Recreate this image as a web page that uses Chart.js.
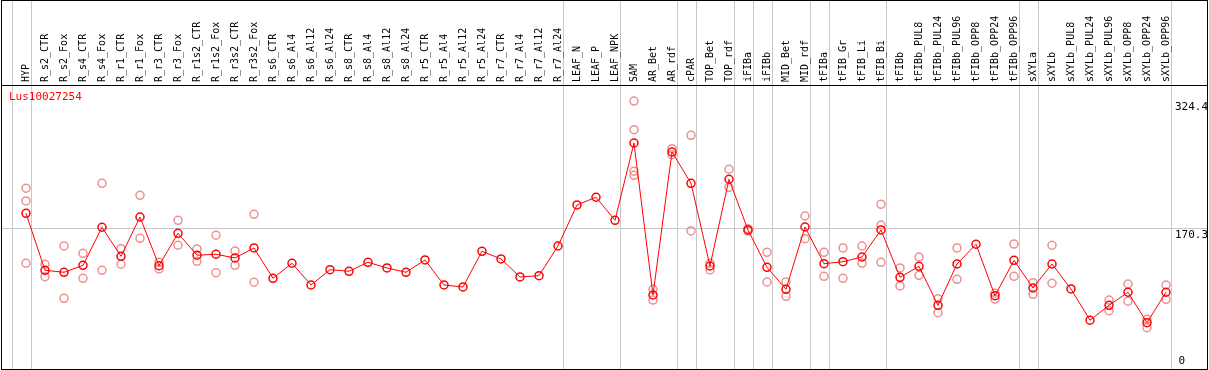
<!DOCTYPE html>
<html>
<head>
<meta charset="utf-8">
<script src="https://cdn.jsdelivr.net/npm/chart.js@4/dist/chart.umd.min.js"></script>
<style>
  html, body { margin: 0; padding: 0; background: #fff; }
  canvas { display: block; }
</style>
</head>
<body>
<canvas id="expr" width="1209" height="370"></canvas>
<script>
// Gene shown
const geneName = 'Lus10027254';

// Sample names (x axis)
const categories = [
    'HYP', 'R_s2_CTR', 'R_s2_Fox', 'R_s4_CTR', 'R_s4_Fox', 'R_r1_CTR', 'R_r1_Fox', 'R_r3_CTR', 'R_r3_Fox',
    'R_r1s2_CTR', 'R_r1s2_Fox', 'R_r3s2_CTR', 'R_r3s2_Fox', 'R_s6_CTR', 'R_s6_Al4', 'R_s6_Al12', 'R_s6_Al24',
    'R_s8_CTR', 'R_s8_Al4', 'R_s8_Al12', 'R_s8_Al24', 'R_r5_CTR', 'R_r5_Al4', 'R_r5_Al12', 'R_r5_Al24',
    'R_r7_CTR', 'R_r7_Al4', 'R_r7_Al12', 'R_r7_Al24', 'LEAF_N', 'LEAF_P', 'LEAF_NPK', 'SAM', 'AR_Bet', 'AR_rdf',
    'cPAR', 'TOP_Bet', 'TOP_rdf', 'iFIBa', 'iFIBb', 'MID_Bet', 'MID_rdf', 'tFIBa', 'tFIB_Gr', 'tFIB_Li', 'tFIB_Bi',
    'tFIBb', 'tFIBb_PUL8', 'tFIBb_PUL24', 'tFIBb_PUL96', 'tFIBb_OPP8', 'tFIBb_OPP24', 'tFIBb_OPP96',
    'sXYLa', 'sXYLb', 'sXYLb_PUL8', 'sXYLb_PUL24', 'sXYLb_PUL96', 'sXYLb_OPP8', 'sXYLb_OPP24', 'sXYLb_OPP96'
];

// Mean expression per sample
const means = [
    188.5, 119.5, 117.1, 125.5, 171.6, 136.4, 184.0, 125.1, 164.3,
    137.7, 138.9, 134.4, 146.5, 109.8, 128.0, 101.7, 120.2,
    118.3, 129.2, 122.3, 117.1, 132.0, 101.7, 99.3, 142.5,
    133.2, 111.4, 113.0, 148.9, 198.6, 207.9, 180.0, 273.6, 89.6, 262.7,
    224.8, 124.7, 229.7, 168.3, 123.1, 96.5, 171.9, 127.5, 129.9, 135.6, 168.3,
    111.0, 124.3, 77.1, 127.1, 151.0, 88.7, 131.6,
    98.1, 127.1, 96.9, 59.0, 77.1, 92.9, 56.1, 92.9
];

// Individual replicates (null = none shown)
const rep1 = [
    218.8, 126.8, 148.9, 140.1, 224.8, 145.6, 210.3, 129.2, 180.0,
    145.3, 161.9, 142.9, 187.3, null, null, null, null,
    null, null, null, null, null, null, null, null,
    null, null, null, null, null, null, null, 324.4, 96.5, 266.7,
    282.9, 128.0, 241.8, 169.9, 141.3, 105.3, 185.2, 141.3, 146.5, 148.9, 199.4,
    122.3, 135.6, 85.1, 146.5, null, 91.7, 151.3,
    104.5, 149.8, null, null, 83.5, 102.9, 60.2, 101.7
];
const rep2 = [
    203.4, 111.7, 85.6, 109.8, 119.5, 126.8, 158.2, 121.1, 149.8,
    130.4, 116.6, 125.5, 105.0, null, null, null, null,
    null, null, null, null, null, null, null, null,
    null, null, null, null, null, null, null, 289.7, 83.5, 259.5,
    167.1, 119.9, 220.0, 167.0, 105.3, 88.0, 157.8, 112.2, 109.8, 128.3, 174.3,
    100.5, 113.4, 68.2, 108.6, null, 84.7, 112.2,
    90.4, 103.8, null, null, 70.6, 82.0, 50.0, 84.4
];
const rep3 = [
    128.0, null, null, null, null, null, null, null, null,
    null, null, null, null, null, null, null, null,
    null, null, null, null, null, null, null, null,
    null, null, null, null, null, null, null, 239.4, null, null,
    null, null, null, null, null, null, null, null, null, null, 129.2,
    null, null, null, null, null, null, null,
    null, null, null, null, null, null, null, null
];
const rep4 = [
    null, null, null, null, null, null, null, null, null,
    null, null, null, null, null, null, null, null,
    null, null, null, null, null, null, null, null,
    null, null, null, null, null, null, null, 234.5, null, null,
    null, null, null, null, null, null, null, null, null, null, null,
    null, null, null, null, null, null, null,
    null, null, null, null, null, null, null, null
];

// Value labels on the right, and the one guide line
const yLabels = [324.4, 170.3, 0];
const yGuide = 170.3;

// Sample groups: a grey line follows each of these indexes
const groupEnds = [-1, 0, 28, 31, 34, 35, 37, 38, 39, 41, 42, 45, 52, 53, 60];

const mono = 'DejaVu Sans Mono';
const toPoints = arr => arr.map((v, i) => ({ x: i, y: v })).filter(p => p.y !== null);

const repStyle = {
    showLine: false,
    pointRadius: 4,
    pointBorderWidth: 1.5,
    pointBorderColor: '#ee9090',
    pointBackgroundColor: 'rgba(0,0,0,0)',
    borderColor: '#ee9090',
};

const frame = {
    id: 'frame',
    beforeDraw(chart) {
        const { ctx, scales: { x }, chartArea } = chart;
        ctx.save();
        ctx.strokeStyle = '#c8c8c8';
        ctx.lineWidth = 1;
        groupEnds.forEach(g => {
            const px = Math.round(x.getPixelForValue(g + 0.24)) + 0.5;
            ctx.beginPath();
            ctx.moveTo(px, 0);
            ctx.lineTo(px, chartArea.bottom);
            ctx.stroke();
        });
        ctx.restore();
    },
    afterDraw(chart) {
        const { ctx, scales: { y }, chartArea } = chart;
        ctx.save();
        ctx.strokeStyle = '#000';
        ctx.lineWidth = 1;
        ctx.strokeRect(1.5, 0.5, 1206, chartArea.bottom);
        ctx.font = '11px ' + mono;
        ctx.fillStyle = '#000';
        ctx.textAlign = 'right';
        yLabels.forEach(v => {
            const py = y.getPixelForValue(v);
            if (v === 0) {
                ctx.textBaseline = 'bottom';
                ctx.fillText('0', 1185, py - 2);
            } else {
                ctx.textBaseline = 'top';
                ctx.fillText(String(v), 1208, py + 1);
            }
        });
        ctx.fillStyle = '#ff0000';
        ctx.textAlign = 'left';
        ctx.textBaseline = 'middle';
        ctx.fillText(geneName, 9, chartArea.top + 12);
        ctx.restore();
    }
};

new Chart(document.getElementById('expr'), {
    type: 'line',
    data: {
        datasets: [
            {
                label: 'mean',
                data: toPoints(means),
                borderColor: '#ff0000',
                borderWidth: 1,
                pointRadius: 4,
                pointBorderWidth: 1.5,
                pointBorderColor: '#ff0000',
                pointBackgroundColor: 'rgba(0,0,0,0)',
            },
            { label: 'rep1', data: toPoints(rep1), ...repStyle },
            { label: 'rep2', data: toPoints(rep2), ...repStyle },
            { label: 'rep3', data: toPoints(rep3), ...repStyle },
            { label: 'rep4', data: toPoints(rep4), ...repStyle },
        ]
    },
    options: {
        responsive: false,
        animation: false,
        layout: { autoPadding: false, padding: { left: 2, right: 2, top: 0, bottom: 1 } },
        plugins: {
            legend: { display: false },
            tooltip: { enabled: false }
        },
        scales: {
            x: {
                type: 'linear',
                position: 'top',
                min: -1.263,
                max: 62.158,
                afterBuildTicks: axis => { axis.ticks = categories.map((_, i) => ({ value: i })); },
                afterFit: axis => {
                    axis.height = 85;
                    axis.paddingLeft = 0;
                    axis.paddingRight = 0;
                },
                grid: { display: false, drawTicks: false },
                border: { display: true, color: '#000', width: 1 },
                ticks: {
                    autoSkip: false,
                    minRotation: 90,
                    maxRotation: 90,
                    padding: 3,
                    labelOffset: 12,
                    color: '#000',
                    font: { family: mono, size: 10 },
                    callback: v => categories[v]
                }
            },
            y: {
                type: 'linear',
                position: 'right',
                min: 0,
                max: 343.8,
                afterBuildTicks: axis => { axis.ticks = [{ value: yGuide }]; },
                afterFit: axis => { axis.width = 0; },
                grid: { color: '#c8c8c8', drawTicks: false },
                border: { display: false },
                ticks: { display: false }
            }
        }
    },
    plugins: [frame]
});
</script>
</body>
</html>
